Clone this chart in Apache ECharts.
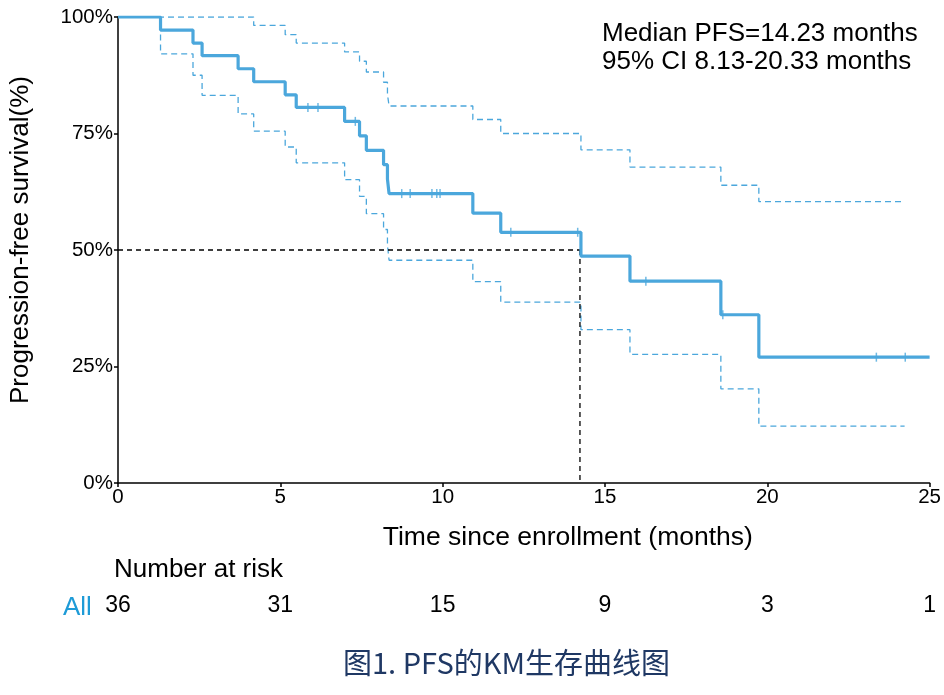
<!DOCTYPE html>
<html>
<head>
<meta charset="utf-8">
<script src="https://cdn.jsdelivr.net/npm/echarts@6/dist/echarts.min.js"></script>
<style>html,body{margin:0;padding:0;background:#fff}#c{width:944px;height:695px}</style>
</head>
<body>
<div id="c"></div>
<script>
// Kaplan-Meier estimate
const kmTimes = [0, 1.31, 2.31, 2.59, 3.70, 4.18, 5.15, 5.49, 6.98, 7.44, 7.65, 8.18, 8.30, 8.35, 10.93, 11.79, 14.26, 15.77, 18.57, 19.74, 25];
const kmSurv  = [100, 97.2, 94.4, 91.7, 88.9, 86.1, 83.3, 80.6, 77.6, 74.5, 71.4, 68.3, 65.2, 62.1, 57.9, 53.8, 48.7, 43.3, 36.1, 27.0, 27.0];
// Upper 95% CI
const upTimes = [0, 4.18, 5.15, 5.49, 6.98, 7.44, 7.65, 8.18, 8.30, 8.35, 10.93, 11.79, 14.26, 15.77, 18.57, 19.74, 24.18];
const upSurv  = [100, 98.2, 96.2, 94.4, 92.5, 90.5, 88.2, 86.0, 83.4, 80.9, 78.0, 75.0, 71.5, 67.8, 63.9, 60.4, 60.4];
// Lower 95% CI
const loTimes = [0, 1.31, 2.31, 2.59, 3.70, 4.18, 5.15, 5.49, 6.98, 7.44, 7.65, 8.18, 8.30, 8.35, 10.93, 11.79, 14.26, 15.77, 18.57, 19.74, 24.23];
const loSurv  = [100, 92.1, 87.5, 83.2, 79.2, 75.5, 72.1, 68.7, 65.1, 61.5, 57.8, 54.4, 51.0, 47.8, 43.2, 38.8, 32.9, 27.6, 20.2, 12.2, 12.2];
// Censoring times
const censorTimes = [5.85, 6.16, 7.31, 8.74, 9.00, 9.67, 9.82, 9.92, 12.10, 14.16, 16.26, 18.63, 23.36, 24.25];
// Median
const medianTime = 14.23;
const medianSurv = 50;
// Number at risk
const riskTimes = [0, 5, 10, 15, 20, 25];
const riskCounts = [36, 31, 15, 9, 3, 1];

const BLUE = '#4BA7DC';
const FONT = 'Liberation Sans';

function zip(t, s) { return t.map((x, i) => [x, s[i]]); }
function stepAt(t) {
  let v = kmSurv[0];
  for (let i = 0; i < kmTimes.length; i++) { if (kmTimes[i] <= t) v = kmSurv[i]; }
  return v;
}
const censorPts = censorTimes.map(t => [t, stepAt(t)]);

const chart = echarts.init(document.getElementById('c'));
chart.setOption({
  animation: false,
  backgroundColor: '#fff',
  textStyle: { fontFamily: FONT },
  grid: { left: 117.5, right: 14, top: 17, bottom: 212, containLabel: false },
  xAxis: [{
    type: 'value', min: 0, max: 25, interval: 5,
    axisLine: { show: true, lineStyle: { color: '#000', width: 1.5 } },
    axisTick: { show: true, length: 4, lineStyle: { color: '#000', width: 1.5 } },
    axisLabel: { color: '#000', fontSize: 20.5, fontFamily: FONT, margin: 4 },
    splitLine: { show: false },
    name: 'Time since enrollment (months)', nameLocation: 'middle', nameGap: 41,
    nameTextStyle: { color: '#000', fontSize: 26.5, fontFamily: FONT, padding: [0, 0, 0, 88] }
  }, {
    type: 'value', min: 0, max: 25, interval: 5, position: 'bottom', offset: 111,
    axisLine: { show: false }, axisTick: { show: false }, splitLine: { show: false },
    axisLabel: { color: '#000', fontSize: 23, fontFamily: FONT, margin: 0,
      formatter: v => { const i = riskTimes.indexOf(v); return i >= 0 ? String(riskCounts[i]) : ''; } }
  }],
  yAxis: {
    type: 'value', min: 0, max: 100, interval: 25,
    axisLine: { show: true, lineStyle: { color: '#000', width: 1.5 } },
    axisTick: { show: true, length: 4, lineStyle: { color: '#000', width: 1.5 } },
    axisLabel: { color: '#000', fontSize: 20.5, fontFamily: FONT, margin: 5, formatter: '{value}%' },
    splitLine: { show: false },
    name: 'Progression-free survival(%)', nameLocation: 'middle', nameGap: 84,
    nameTextStyle: { color: '#000', fontSize: 26, fontFamily: FONT, padding: [0, 0, 0, 20] }
  },
  title: [
    { text: 'Median PFS=14.23 months', left: 597, top: 16, textStyle: { color: '#000', fontSize: 26, fontWeight: 'normal', fontFamily: FONT } },
    { text: '95% CI 8.13-20.33 months', left: 597, top: 44, textStyle: { color: '#000', fontSize: 26, fontWeight: 'normal', fontFamily: FONT } },
    { text: 'Number at risk', left: 109, top: 552, textStyle: { color: '#000', fontSize: 26, fontWeight: 'normal', fontFamily: FONT } },
    { text: 'All', left: 58, top: 590, textStyle: { color: '#1E9BD7', fontSize: 26, fontWeight: 'normal', fontFamily: FONT } },
    { text: '图1. PFS的KM生存曲线图', left: 338, top: 643,
      textStyle: { color: '#1F3864', fontSize: 29, fontWeight: 'normal', fontFamily: 'Noto Sans CJK SC' } }
  ],
  series: [
    { type: 'line', name: 'Upper CI', data: zip(upTimes, upSurv), step: 'end', symbol: 'none',
      lineStyle: { color: BLUE, width: 1.3, type: [6, 4] }, z: 2 },
    { type: 'line', name: 'Lower CI', data: zip(loTimes, loSurv), step: 'end', symbol: 'none',
      lineStyle: { color: BLUE, width: 1.3, type: [6, 4] }, z: 2 },
    { type: 'line', name: 'Median H', data: [[0, medianSurv], [medianTime, medianSurv]], symbol: 'none',
      lineStyle: { color: '#000', width: 1.3, type: [5, 4] }, z: 3 },
    { type: 'line', name: 'Median V', data: [[medianTime, medianSurv], [medianTime, 0]], symbol: 'none',
      lineStyle: { color: '#000', width: 1.3, type: [5, 4] }, z: 3 },
    { type: 'line', name: 'KM', data: zip(kmTimes, kmSurv), step: 'end', symbol: 'none',
      lineStyle: { color: BLUE, width: 3.2 }, z: 4 },
    { type: 'scatter', name: 'Censored', data: censorPts, symbol: 'rect', symbolSize: [1.5, 9],
      itemStyle: { color: BLUE }, z: 5 }
  ]
});
</script>
</body>
</html>
